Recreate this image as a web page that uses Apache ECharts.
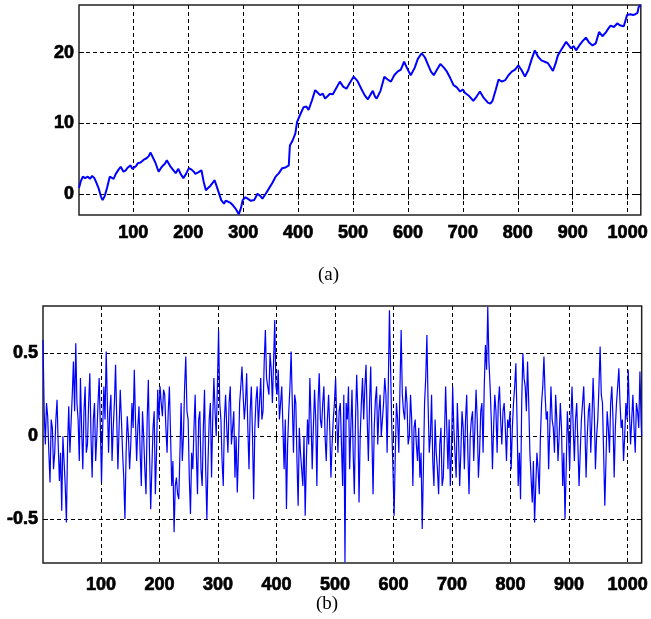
<!DOCTYPE html>
<html>
<head>
<meta charset="utf-8">
<script src="https://cdn.jsdelivr.net/npm/echarts@6/dist/echarts.min.js"></script>
<style>
html,body{margin:0;padding:0;background:#fff;}
#chart{width:651px;height:619px;}
</style>
</head>
<body>
<div id="chart"></div>
<script>
// Panel (a): cumulative walk, [index, value]
var walkPoints = [
[1,0.9],[4,1.8],[8,2.5],[12,2.3],[17,2.5],[21,2.2],[25,2.6],[29,2.3],[33,1.6],[37,0.8],
[41,-0.3],[44,-0.8],[48,-0.2],[52,0.9],[57,2.5],[60,2.7],[64,2.2],[68,2.9],[73,3.5],[77,3.9],
[82,3.2],[86,3.4],[90,3.8],[95,4.1],[98,3.6],[101,3.4],[105,4.0],[108,4.4],[113,4.5],[119,4.9],
[124,5.1],[128,5.4],[131,5.9],[135,5.3],[140,4.5],[146,3.2],[150,3.7],[153,4.0],[157,4.3],[161,4.8],
[164,4.4],[167,4.0],[173,3.4],[177,3.0],[182,3.6],[186,2.9],[191,2.3],[196,2.9],[201,3.7],[206,3.5],
[210,3.2],[213,2.9],[218,3.1],[224,3.4],[228,1.8],[232,0.6],[236,0.9],[240,1.2],[244,1.6],[248,2.0],
[254,0.6],[260,-0.8],[265,-1.3],[268,-0.9],[272,-1.0],[277,-1.2],[281,-1.5],[286,-2.0],[292,-2.8],[296,-1.9],
[299,-0.8],[304,-0.4],[308,-0.6],[314,-0.9],[320,-0.8],[326,0.1],[331,-0.2],[335,-0.6],[341,0.1],[347,0.85],
[353,1.6],[359,2.5],[365,3.0],[371,3.7],[377,3.8],[383,4.1],[385,6.9],[390,7.6],[395,8.6],[398,10.2],
[404,11.3],[410,12.3],[415,12.4],[419,11.9],[425,13.2],[431,14.7],[435,14.4],[440,14.0],[445,14.2],[449,13.5],
[453,13.8],[458,14.2],[463,14.1],[468,14.8],[476,15.9],[482,15.2],[488,14.9],[494,15.7],[501,16.6],[508,16.0],
[515,14.9],[521,14.0],[527,13.4],[532,14.1],[536,14.6],[540,13.8],[543,13.5],[550,14.6],[557,16.6],[563,16.2],
[569,15.9],[575,16.8],[581,17.3],[587,17.6],[593,18.7],[599,17.7],[605,16.8],[612,17.8],[618,19.1],[625,19.9],
[631,19.3],[637,18.2],[642,17.3],[647,16.8],[653,17.6],[659,18.4],[665,17.9],[671,17.3],[677,16.4],[683,15.4],
[689,15.1],[695,14.5],[700,14.8],[704,14.3],[711,13.9],[719,13.2],[725,13.8],[731,14.5],[738,13.6],[746,12.9],
[750,12.8],[754,13.2],[760,14.8],[765,16.2],[771,15.9],[777,16.1],[783,16.8],[789,17.3],[795,17.6],[801,18.2],
[807,17.5],[813,16.6],[819,17.5],[825,19.0],[831,20.3],[837,19.4],[843,18.9],[849,18.7],[855,18.5],[860,17.9],
[864,17.4],[869,18.5],[873,19.6],[880,20.5],[888,21.5],[893,21.0],[897,20.6],[902,20.9],[906,20.3],[912,21.0],
[918,21.6],[924,22.1],[930,21.4],[936,21.0],[942,21.3],[948,22.9],[954,22.3],[960,22.8],[965,23.4],[969,23.8],
[975,23.6],[981,24.1],[987,23.8],[993,23.7],[999,25.3],[1005,25.4],[1010,25.3],[1014,25.4],[1018,25.6],[1020,26.4],
[1024,26.7]
];

// Panel (b): increments, one value every noiseStep samples starting at index 1
var noiseStep = 2;
var noiseValues = [
0.58,0.15,-0.05,0.2,0.12,-0.1,-0.28,0.1,0.05,-0.2,-0.1,0.1,0.22,-0.05,-0.27,-0.1,-0.45,0.0,-0.15,-0.3,-0.52,-0.05,0.18,-0.1,0.08,0.25,0.45,0.15,0.56,0.2,0.1,-0.15,0.35,0.05,-0.2,0.15,0.3,-0.1,-0.05,0.2,0.38,0.0,-0.25,0.1,0.2,-0.15,0.0,0.2,0.35,0.05,
-0.28,0.05,0.3,0.1,0.51,0.2,-0.1,0.15,0.25,-0.15,0.05,0.2,0.43,0.1,-0.2,0.05,0.28,0.1,-0.1,-0.25,-0.5,-0.1,0.12,0.0,-0.2,-0.05,0.2,0.05,0.4,0.1,-0.15,0.05,0.18,-0.1,-0.3,0.15,0.0,-0.2,-0.35,0.1,0.34,-0.1,-0.44,-0.2,0.05,0.15,-0.35,-0.1,0.28,0.1,
0.3,0.2,0.12,0.28,0.25,0.05,-0.1,0.15,0.3,0.0,-0.3,-0.15,-0.58,-0.3,-0.25,-0.35,-0.38,-0.1,0.2,-0.15,0.0,0.3,0.48,0.15,0.1,-0.25,-0.47,-0.1,-0.2,0.05,0.25,-0.1,-0.35,0.1,0.15,-0.2,-0.3,0.05,0.28,-0.2,-0.5,-0.15,0.1,0.2,-0.25,0.1,0.35,0.15,0.0,0.3,
0.64,0.2,0.1,-0.15,-0.3,0.1,0.25,0.05,-0.1,0.2,0.3,-0.05,0.05,0.15,-0.25,0.0,-0.34,-0.1,0.2,0.3,0.42,0.25,0.1,0.2,0.38,0.05,-0.2,0.15,0.3,0.0,-0.38,0.05,0.22,0.3,0.05,0.2,0.35,0.1,0.15,0.45,0.64,0.35,0.3,0.25,0.5,0.4,0.2,0.45,0.7,0.3,
0.25,0.4,0.1,0.2,0.3,0.05,-0.2,0.1,-0.44,-0.05,0.15,0.3,0.51,0.2,-0.1,0.25,0.2,-0.15,-0.42,0.05,-0.1,-0.2,-0.3,0.0,-0.48,-0.15,0.1,-0.05,0.35,0.1,-0.2,0.05,0.28,0.1,-0.3,0.2,0.38,0.1,0.05,0.2,0.3,0.0,-0.15,0.1,0.25,0.05,-0.25,-0.05,0.1,0.2,
0.35,0.1,-0.1,0.15,0.2,-0.05,-0.3,0.25,-0.76,0.2,0.1,0.3,-0.2,0.05,0.28,-0.1,-0.35,0.1,0.37,0.15,-0.4,0.0,0.2,0.35,0.1,0.3,0.43,0.1,-0.15,0.2,0.42,0.0,-0.35,0.05,0.22,0.3,-0.05,0.15,0.25,0.0,0.1,0.2,0.35,0.25,-0.1,0.3,0.76,0.4,0.05,-0.2,
-0.48,-0.1,0.2,0.1,-0.1,0.3,0.64,0.25,0.15,0.1,0.3,0.2,-0.05,0.0,0.25,0.1,-0.3,0.05,0.1,-0.05,-0.15,0.05,-0.25,-0.1,-0.56,-0.2,0.2,0.35,0.61,0.2,-0.1,0.0,0.25,-0.15,-0.3,0.1,-0.1,-0.2,-0.35,-0.05,0.05,-0.3,-0.25,0.0,0.3,0.05,-0.2,0.1,-0.3,-0.1,
0.3,0.05,-0.1,-0.25,0.2,0.0,-0.3,-0.1,0.15,0.05,-0.2,0.1,0.25,-0.1,-0.35,0.0,0.1,0.15,-0.15,0.05,0.28,0.1,-0.25,-0.1,0.15,0.2,-0.1,0.3,0.55,0.4,0.78,0.45,0.3,0.1,-0.2,0.05,0.25,0.15,-0.1,0.2,0.3,0.1,-0.05,0.15,0.2,0.05,-0.15,0.1,0.05,0.15,
-0.2,0.05,0.2,0.3,0.44,0.1,-0.3,-0.1,-0.38,0.2,0.5,0.35,0.3,0.15,0.45,0.2,-0.1,-0.25,-0.4,-0.15,-0.52,-0.3,-0.1,-0.2,-0.35,0.0,0.2,0.3,0.48,0.25,0.1,0.15,-0.2,0.05,0.3,0.1,0.05,-0.1,0.25,0.1,-0.15,0.0,0.2,0.05,-0.3,-0.1,-0.5,-0.2,0.15,0.0,
-0.2,0.1,0.3,0.05,-0.15,0.1,0.2,-0.05,-0.3,-0.1,0.1,0.2,0.3,0.05,-0.25,0.0,0.15,0.2,-0.1,0.1,0.35,0.15,-0.2,0.0,0.1,0.3,0.54,0.25,0.2,-0.1,-0.42,-0.15,0.15,0.05,-0.1,0.2,0.3,0.1,-0.25,0.05,0.2,0.3,0.41,0.2,0.05,0.1,-0.15,0.0,0.2,0.1,
0.4,0.15,-0.05,0.1,0.25,0.05,-0.1,0.2,0.15,0.05,0.39,0.1,0.0
];

var xTicks = [100,200,300,400,500,600,700,800,900,1000];
var yTicksA = [0,10,20];
var yTicksB = [-0.5,0,0.5];
var xRange = [1,1024];
var yRangeA = [-2.9,26.7];
var yRangeB = [-0.765,0.785];

var noisePoints = noiseValues.map(function(v,i){
  return [Math.min(xRange[0] + i*noiseStep, xRange[1]), v];
});

var labelFont = {fontFamily:'Liberation Sans', fontWeight:'bold', fontSize:18, color:'#000',
  textBorderColor:'#000', textBorderWidth:0.7};
var gridLine = {show:true, lineStyle:{color:'#000', type:[4,3], width:1}};

function xAxisDef(gridIndex, pos, showLabel, margin){
  return {
    type:'value', gridIndex:gridIndex, position:pos, min:xRange[0], max:xRange[1],
    axisLine:{show:false},
    axisTick:{show:true, inside:true, length:5, customValues:xTicks, lineStyle:{color:'#000'}},
    axisLabel:Object.assign({show:showLabel, margin:margin, customValues:xTicks,
      formatter:function(v){return String(v);}}, labelFont),
    splitLine: showLabel ? gridLine : {show:false}
  };
}
function yAxisDef(gridIndex, pos, showLabel, range, ticks){
  return {
    type:'value', gridIndex:gridIndex, position:pos, min:range[0], max:range[1],
    axisLine:{show:false},
    axisTick:{show:true, inside:true, length:5, customValues:ticks, lineStyle:{color:'#000'}},
    axisLabel:Object.assign({show:showLabel, margin:5, customValues:ticks,
      formatter:function(v){return String(v);}}, labelFont),
    splitLine: showLabel ? gridLine : {show:false}
  };
}

var chart = echarts.init(document.getElementById('chart'), null, {renderer:'canvas'});
chart.setOption({
  animation:false,
  backgroundColor:'#fff',
  title:[
    {text:'(a)', left:313, top:261, textStyle:{fontFamily:'Liberation Serif', fontWeight:'normal', fontSize:19, color:'#000'}},
    {text:'(b)', left:311, top:590, textStyle:{fontFamily:'Liberation Serif', fontWeight:'normal', fontSize:19, color:'#000'}}
  ],
  grid:[
    {left:79, top:5, right:4, height:210, show:true, borderColor:'#222', borderWidth:1.5, backgroundColor:'transparent'},
    {left:43, top:306, right:4, height:257, show:true, borderColor:'#222', borderWidth:1.5, backgroundColor:'transparent'}
  ],
  xAxis:[
    xAxisDef(0,'bottom',true,9),
    xAxisDef(0,'top',false,9),
    xAxisDef(1,'bottom',true,13),
    xAxisDef(1,'top',false,13)
  ],
  yAxis:[
    yAxisDef(0,'left',true,yRangeA,yTicksA),
    yAxisDef(0,'right',false,yRangeA,yTicksA),
    yAxisDef(1,'left',true,yRangeB,yTicksB),
    yAxisDef(1,'right',false,yRangeB,yTicksB)
  ],
  series:[
    {type:'line', xAxisIndex:0, yAxisIndex:0, data:walkPoints, showSymbol:false, symbol:'none',
     lineStyle:{color:'#0000ff', width:2}, clip:true},
    {type:'line', xAxisIndex:2, yAxisIndex:2, data:noisePoints, showSymbol:false, symbol:'none',
     lineStyle:{color:'#0000ff', width:1.2}, clip:true}
  ]
});
</script>
</body>
</html>
